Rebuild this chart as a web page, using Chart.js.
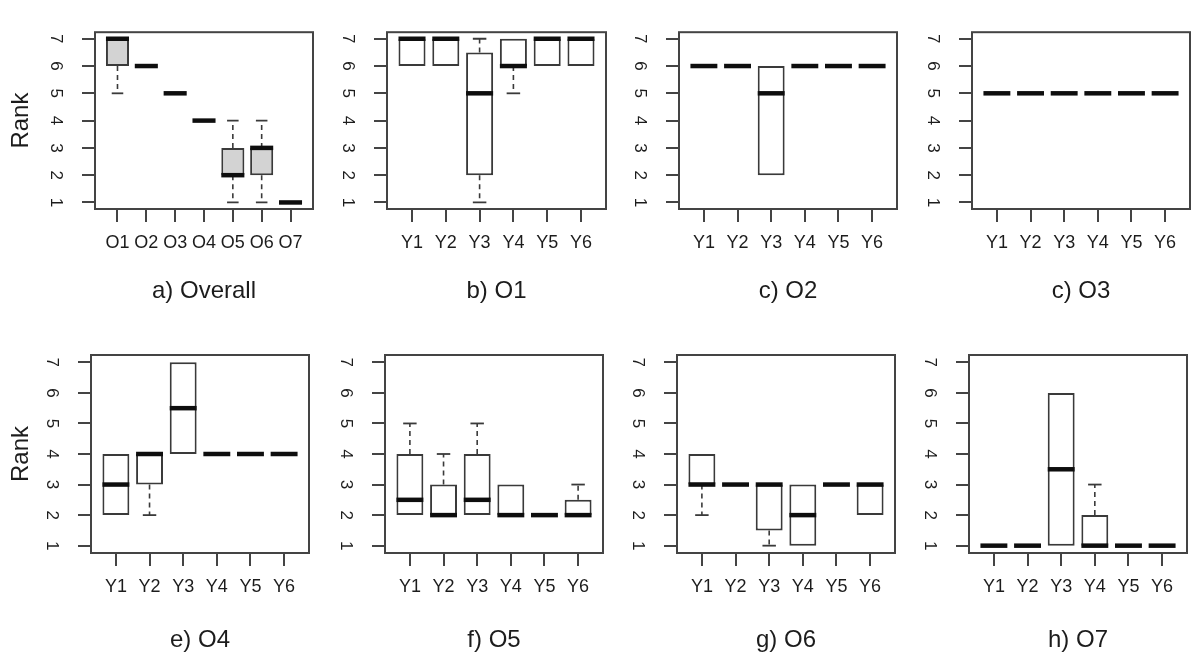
<!DOCTYPE html>
<html>
<head>
<meta charset="utf-8">
<title>Rank distributions</title>
<script src="https://cdn.jsdelivr.net/npm/chart.js@4.4.1/dist/chart.umd.min.js"></script>
<style>
  html, body { margin: 0; padding: 0; background: #ffffff; }
  #wrap { position: relative; width: 1203px; height: 655px; overflow: hidden; }
  #wrap canvas { position: absolute; }
</style>
</head>
<body>
<div id="wrap"></div>
<script>
// Categories and tick labels
const overallCats = ['O1', 'O2', 'O3', 'O4', 'O5', 'O6', 'O7'];
const yearCats = ['Y1', 'Y2', 'Y3', 'Y4', 'Y5', 'Y6'];
const rankTicks = [1, 2, 3, 4, 5, 6, 7];
const panelTitles = ['a) Overall', 'b) O1', 'c) O2', 'c) O3', 'e) O4', 'f) O5', 'g) O6', 'h) O7'];

// Five-number summaries per category: [lower whisker, Q1, median, Q3, upper whisker]
const overallStats = [[5, 6, 7, 7, 7], [6, 6, 6, 6, 6], [5, 5, 5, 5, 5], [4, 4, 4, 4, 4], [1, 2, 2, 3, 4], [1, 2, 3, 3, 4], [1, 1, 1, 1, 1]];
const o1Stats = [[6, 6, 7, 7, 7], [6, 6, 7, 7, 7], [1, 2, 5, 6.5, 7], [5, 6, 6, 7, 7], [6, 6, 7, 7, 7], [6, 6, 7, 7, 7]];
const o2Stats = [[6, 6, 6, 6, 6], [6, 6, 6, 6, 6], [2, 2, 5, 6, 6], [6, 6, 6, 6, 6], [6, 6, 6, 6, 6], [6, 6, 6, 6, 6]];
const o3Stats = [[5, 5, 5, 5, 5], [5, 5, 5, 5, 5], [5, 5, 5, 5, 5], [5, 5, 5, 5, 5], [5, 5, 5, 5, 5], [5, 5, 5, 5, 5]];
const o4Stats = [[2, 2, 3, 4, 4], [2, 3, 4, 4, 4], [4, 4, 5.5, 7, 7], [4, 4, 4, 4, 4], [4, 4, 4, 4, 4], [4, 4, 4, 4, 4]];
const o5Stats = [[2, 2, 2.5, 4, 5], [2, 2, 2, 3, 4], [2, 2, 2.5, 4, 5], [2, 2, 2, 3, 3], [2, 2, 2, 2, 2], [2, 2, 2, 2.5, 3]];
const o6Stats = [[2, 3, 3, 4, 4], [3, 3, 3, 3, 3], [1, 1.5, 3, 3, 3], [1, 1, 2, 3, 3], [3, 3, 3, 3, 3], [2, 2, 3, 3, 3]];
const o7Stats = [[1, 1, 1, 1, 1], [1, 1, 1, 1, 1], [1, 1, 3.5, 6, 6], [1, 1, 1, 2, 3], [1, 1, 1, 1, 1], [1, 1, 1, 1, 1]];

// Page layout: canvas cells and the plot frame inside each one
const FONT = '"Liberation Sans", Arial, Helvetica, sans-serif';
const colStart = [0, 330, 620, 915];
const colEnd = [330, 620, 915, 1203];
const rowStart = [0, 322];
const rowEnd = [322, 655];
const frameTop = [13, 355];
const frameBottom = [209, 553];
const frameLeft = [[95, 387, 679, 972], [91, 385, 677, 969]];
const frameRight = [[313, 606, 897, 1190], [309, 603, 895, 1187]];
const titleCenter = [291, 640];
const INK = '#1c1c1c';
const LINE = '#3a3a3a';

const panels = [
  { cats: overallCats, stats: overallStats, fill: '#d3d3d3' },
  { cats: yearCats, stats: o1Stats, fill: '#ffffff' },
  { cats: yearCats, stats: o2Stats, fill: '#ffffff' },
  { cats: yearCats, stats: o3Stats, fill: '#ffffff' },
  { cats: yearCats, stats: o4Stats, fill: '#ffffff' },
  { cats: yearCats, stats: o5Stats, fill: '#ffffff' },
  { cats: yearCats, stats: o6Stats, fill: '#ffffff' },
  { cats: yearCats, stats: o7Stats, fill: '#ffffff' }
];

// Medians, dashed whiskers, staples and the plot frame
const boxDecor = {
  id: 'boxDecor',
  afterDatasetsDraw(chart, args, opts) {
    const ctx = chart.ctx;
    const ys = chart.scales.y;
    const meta = chart.getDatasetMeta(0);
    const stats = opts.stats;
    const area = chart.chartArea;
    ctx.save();
    stats.forEach((s, i) => {
      const el = meta.data[i];
      if (!el) return;
      const { x, width } = el.getProps(['x', 'width'], true);
      const [lo, q1, med, q3, hi] = s;
      ctx.strokeStyle = LINE;
      ctx.lineWidth = 1.6;
      ctx.setLineDash([5, 4]);
      ctx.beginPath();
      if (hi > q3) { ctx.moveTo(x, ys.getPixelForValue(q3)); ctx.lineTo(x, ys.getPixelForValue(hi)); }
      if (lo < q1) { ctx.moveTo(x, ys.getPixelForValue(q1)); ctx.lineTo(x, ys.getPixelForValue(lo)); }
      ctx.stroke();
      ctx.setLineDash([]);
      ctx.lineWidth = 1.8;
      ctx.beginPath();
      if (hi > q3) { const p = ys.getPixelForValue(hi); ctx.moveTo(x - width / 4, p); ctx.lineTo(x + width / 4, p); }
      if (lo < q1) { const p = ys.getPixelForValue(lo); ctx.moveTo(x - width / 4, p); ctx.lineTo(x + width / 4, p); }
      ctx.stroke();
      ctx.strokeStyle = '#0e0e0e';
      ctx.lineWidth = 4.5;
      ctx.lineCap = 'butt';
      ctx.beginPath();
      const pm = ys.getPixelForValue(med);
      ctx.moveTo(x - width / 2, pm);
      ctx.lineTo(x + width / 2, pm);
      ctx.stroke();
    });
    ctx.strokeStyle = '#444444';
    ctx.lineWidth = 2;
    ctx.strokeRect(area.left, area.top, area.right - area.left, area.bottom - area.top);
    ctx.restore();
  }
};

const wrap = document.getElementById('wrap');

panels.forEach((p, k) => {
  const row = Math.floor(k / 4);
  const col = k % 4;
  const cx = colStart[col], cw = colEnd[col] - colStart[col];
  const cy = rowStart[row], ch = rowEnd[row] - rowStart[row];
  const fl = frameLeft[row][col], fr = frameRight[row][col];
  const ft = frameTop[row], fb = frameBottom[row];
  const titleSize = 24;
  const titlePadBottom = rowEnd[row] - titleCenter[row] - titleSize * 1.2 / 2;

  const canvas = document.createElement('canvas');
  canvas.width = cw;
  canvas.height = ch;
  canvas.style.left = cx + 'px';
  canvas.style.top = cy + 'px';
  wrap.appendChild(canvas);

  const n = p.cats.length;
  const boxData = p.stats.map((s, i) => ({ x: i + 1, y: [s[1], s[3]] }));

  new Chart(canvas, {
    type: 'bar',
    data: {
      datasets: [{
        data: boxData,
        backgroundColor: p.fill,
        borderColor: LINE,
        borderWidth: 2,
        borderSkipped: false,
        barPercentage: 0.8,
        categoryPercentage: 1.0
      }]
    },
    options: {
      responsive: false,
      animation: false,
      devicePixelRatio: 1,
      layout: { padding: { left: 0, top: ft - cy, right: colEnd[col] - fr, bottom: 0 } },
      plugins: {
        legend: { display: false },
        title: { display: false },
        tooltip: { enabled: false },
        boxDecor: { stats: p.stats }
      },
      scales: {
        x: {
          type: 'linear',
          min: 1 - 0.5 - n * 0.04,
          max: n + 0.5 + n * 0.04,
          offset: false,
          afterBuildTicks: s => { s.ticks = p.cats.map((c, i) => ({ value: i + 1 })); },
          afterFit: s => { s.height = rowEnd[row] - fb; },
          grid: { display: true, offset: false, drawOnChartArea: false, drawTicks: true, tickLength: 13, color: '#444444', lineWidth: 2 },
          border: { display: false },
          ticks: {
            autoSkip: false,
            maxRotation: 0,
            minRotation: 0,
            padding: 10,
            color: INK,
            font: { family: FONT, size: 18 },
            callback: v => p.cats[Math.round(v) - 1]
          },
          title: {
            display: true,
            text: panelTitles[k],
            color: INK,
            font: { family: FONT, size: titleSize },
            padding: { top: 0, bottom: titlePadBottom }
          }
        },
        y: {
          type: 'linear',
          min: 1 - 6 * 0.04,
          max: 7 + 6 * 0.04,
          afterBuildTicks: s => { s.ticks = rankTicks.map(v => ({ value: v })); },
          afterFit: s => { s.width = fl - cx; },
          grid: { display: true, drawOnChartArea: false, drawTicks: true, tickLength: 13, color: '#444444', lineWidth: 2 },
          border: { display: false },
          ticks: {
            autoSkip: false,
            minRotation: -90,
            maxRotation: -90,
            crossAlign: 'center',
            padding: 22,
            color: INK,
            font: { family: FONT, size: 17 },
            callback: v => String(v)
          },
          title: {
            display: col === 0,
            text: 'Rank',
            color: INK,
            font: { family: FONT, size: titleSize },
            padding: { top: 7, bottom: 0 }
          }
        }
      }
    },
    plugins: [boxDecor]
  });
});
</script>
</body>
</html>
